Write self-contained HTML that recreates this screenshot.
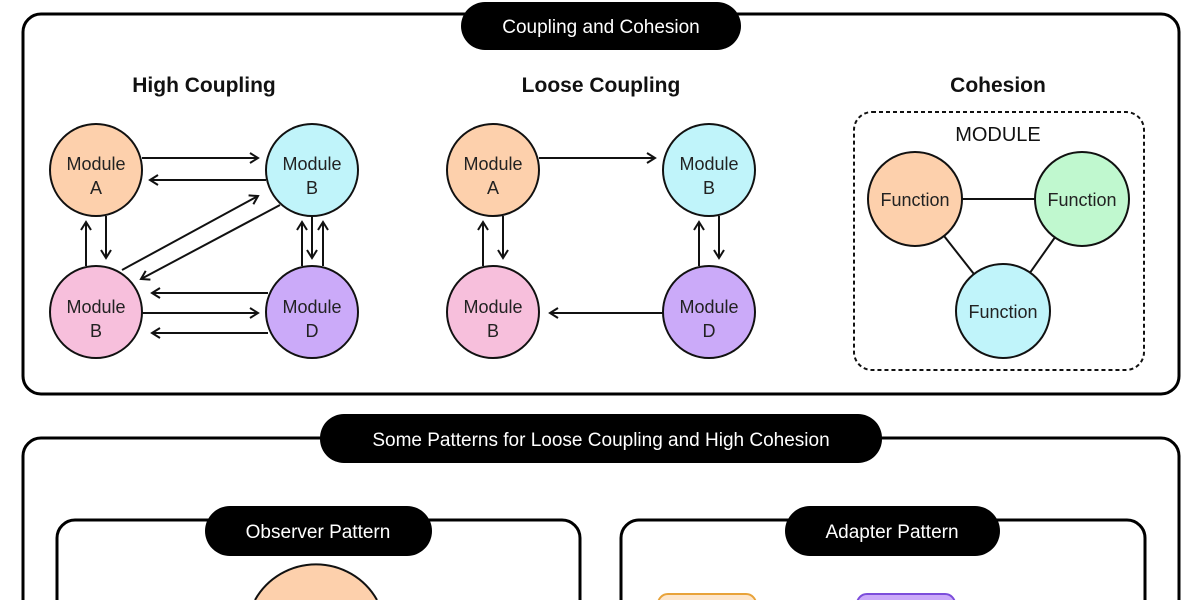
<!DOCTYPE html>
<html><head><meta charset="utf-8"><style>
html,body{margin:0;padding:0;background:#fff;width:1200px;height:600px;overflow:hidden}
svg{display:block}
text{font-family:"Liberation Sans",sans-serif}
</style></head><body>
<svg width="1200" height="600" viewBox="0 0 1200 600" xmlns="http://www.w3.org/2000/svg">
<defs>
<marker id="a" viewBox="0 0 12 12" refX="10" refY="6" markerWidth="12" markerHeight="12" markerUnits="userSpaceOnUse" orient="auto">
<path d="M2,1 L10,6 L2,11" fill="none" stroke="#111" stroke-width="2"/>
</marker>
<clipPath id="c"><rect x="0" y="0" width="1200" height="600"/></clipPath>
</defs>
<rect x="23" y="14" width="1156" height="380" rx="18" fill="none" stroke="#000" stroke-width="3"/>
<rect x="461" y="2" width="280" height="48" rx="24" fill="#000"/>
<text x="601" y="33" font-size="19" fill="#fff" text-anchor="middle">Coupling and Cohesion</text>
<g font-size="21" font-weight="bold" text-anchor="middle" fill="#111">
<text x="204" y="92">High Coupling</text>
<text x="601" y="92">Loose Coupling</text>
<text x="998" y="92">Cohesion</text>
</g>
<g stroke="#111" stroke-width="2" fill="none" marker-end="url(#a)">
<line x1="142" y1="158" x2="258" y2="158"/>
<line x1="266" y1="180" x2="150" y2="180"/>
<line x1="106" y1="216" x2="106" y2="258"/>
<line x1="86" y1="266" x2="86" y2="222"/>
<line x1="122" y1="270" x2="258" y2="196"/>
<line x1="280" y1="205" x2="141" y2="279"/>
<line x1="302" y1="266" x2="302" y2="222"/>
<line x1="312" y1="216" x2="312" y2="258"/>
<line x1="323" y1="266" x2="323" y2="222"/>
<line x1="268" y1="293" x2="152" y2="293"/>
<line x1="142" y1="313" x2="258" y2="313"/>
<line x1="268" y1="333" x2="152" y2="333"/>
<line x1="539" y1="158" x2="655" y2="158"/>
<line x1="483" y1="266" x2="483" y2="222"/>
<line x1="503" y1="216" x2="503" y2="258"/>
<line x1="699" y1="266" x2="699" y2="222"/>
<line x1="719" y1="216" x2="719" y2="258"/>
<line x1="663" y1="313" x2="550" y2="313"/>
</g>
<g stroke="#111" stroke-width="2">
<circle cx="96" cy="170" r="46" fill="#fdd0ac"/>
<circle cx="312" cy="170" r="46" fill="#c0f4fa"/>
<circle cx="96" cy="312" r="46" fill="#f7bfdc"/>
<circle cx="312" cy="312" r="46" fill="#cbaaf9"/>
<circle cx="493" cy="170" r="46" fill="#fdd0ac"/>
<circle cx="709" cy="170" r="46" fill="#c0f4fa"/>
<circle cx="493" cy="312" r="46" fill="#f7bfdc"/>
<circle cx="709" cy="312" r="46" fill="#cbaaf9"/>
</g>
<g font-size="18" fill="#222" text-anchor="middle">
<text x="96" y="170">Module</text><text x="96" y="194">A</text>
<text x="312" y="170">Module</text><text x="312" y="194">B</text>
<text x="96" y="313">Module</text><text x="96" y="337">B</text>
<text x="312" y="313">Module</text><text x="312" y="337">D</text>
<text x="493" y="170">Module</text><text x="493" y="194">A</text>
<text x="709" y="170">Module</text><text x="709" y="194">B</text>
<text x="493" y="313">Module</text><text x="493" y="337">B</text>
<text x="709" y="313">Module</text><text x="709" y="337">D</text>
</g>
<rect x="854" y="112" width="290" height="258" rx="18" fill="none" stroke="#111" stroke-width="2" stroke-dasharray="4,3"/>
<text x="998" y="141" font-size="20" text-anchor="middle" fill="#111">MODULE</text>
<g stroke="#111" stroke-width="2">
<line x1="915" y1="199" x2="1082" y2="199"/>
<line x1="915" y1="199" x2="1003" y2="311"/>
<line x1="1082" y1="199" x2="1003" y2="311"/>
<circle cx="915" cy="199" r="47" fill="#fdd0ac"/>
<circle cx="1082" cy="199" r="47" fill="#c0f8cf"/>
<circle cx="1003" cy="311" r="47" fill="#c0f4fa"/>
</g>
<g font-size="18" fill="#222" text-anchor="middle">
<text x="915" y="206">Function</text>
<text x="1082" y="206">Function</text>
<text x="1003" y="318">Function</text>
</g>
<g fill="none" stroke="#000" stroke-width="3">
<path d="M23,600 V456 A18,18 0 0 1 41,438 H1161 A18,18 0 0 1 1179,456 V600"/>
<path d="M57,600 V538 A18,18 0 0 1 75,520 H562 A18,18 0 0 1 580,538 V600"/>
<path d="M621,600 V538 A18,18 0 0 1 639,520 H1127 A18,18 0 0 1 1145,538 V600"/>
</g>
<rect x="320" y="414" width="562" height="49" rx="24" fill="#000"/>
<text x="601" y="446" font-size="19" fill="#fff" text-anchor="middle">Some Patterns for Loose Coupling and High Cohesion</text>
<rect x="205" y="506" width="227" height="50" rx="25" fill="#000"/>
<text x="318" y="538" font-size="19" fill="#fff" text-anchor="middle">Observer Pattern</text>
<rect x="785" y="506" width="215" height="50" rx="25" fill="#000"/>
<text x="892" y="538" font-size="19" fill="#fff" text-anchor="middle">Adapter Pattern</text>
<g clip-path="url(#c)">
<path d="M255,600 A70,70 0 0 1 377,600 Z" fill="#fdd0ac" stroke="none"/>
<path d="M255,600 A70,70 0 0 1 377,600" fill="none" stroke="#111" stroke-width="2"/>
<path d="M658,600 V604 A10,10 0 0 1 668,594 H746 A10,10 0 0 1 756,604 V600" fill="#fde6cc" stroke="#e8a33a" stroke-width="2"/>
<path d="M857,600 V604 A10,10 0 0 1 867,594 H945 A10,10 0 0 1 955,604 V600" fill="#cbaaf9" stroke="#7c4ddb" stroke-width="2"/>
</g>
</svg>
</body></html>
